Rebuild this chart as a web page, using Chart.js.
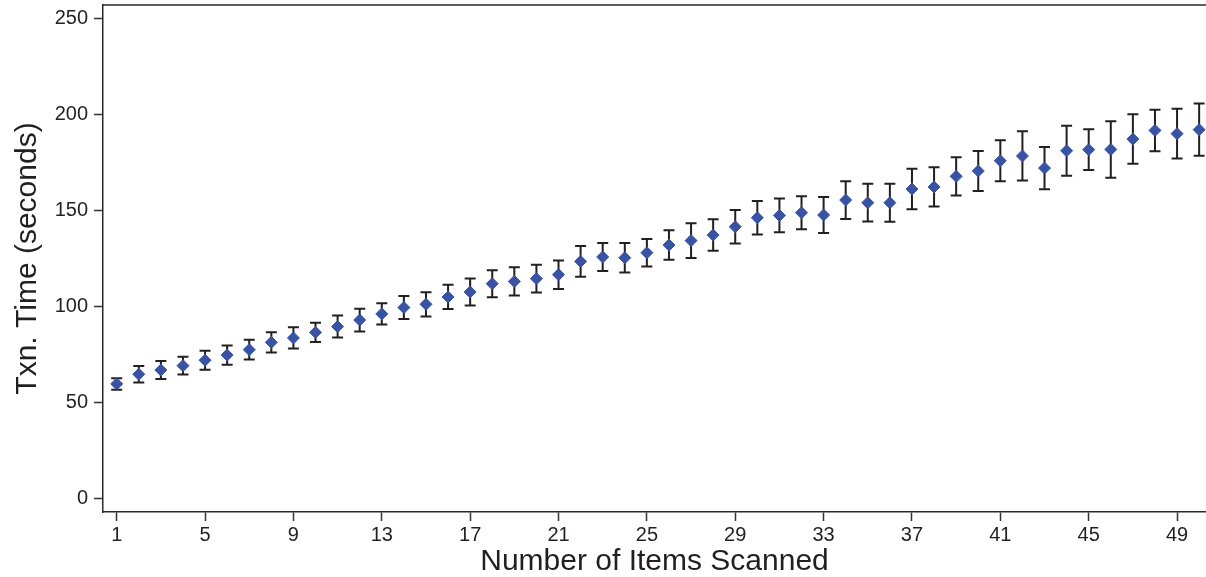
<!DOCTYPE html>
<html>
<head>
<meta charset="utf-8">
<script src="https://cdn.jsdelivr.net/npm/chart.js@4/dist/chart.umd.min.js"></script>
<style>
    html, body { margin: 0; padding: 0; background: #fff; }
</style>
</head>
<body>
<canvas id="chart" width="1206" height="577"></canvas>
<script>
// data
const items = [1, 2, 3, 4, 5, 6, 7, 8, 9, 10, 11, 12, 13, 14, 15, 16, 17, 18, 19, 20,
    21, 22, 23, 24, 25, 26, 27, 28, 29, 30, 31, 32, 33, 34, 35, 36, 37, 38, 39, 40,
    41, 42, 43, 44, 45, 46, 47, 48, 49, 50];
const meanTime = [59.8, 64.8, 67, 69.3, 72.1, 74.8, 77.6, 81.4, 83.7, 86.6,
    89.6, 93, 96.2, 99.5, 101.2, 105, 107.6, 111.9, 113.1, 114.5,
    116.6, 123.5, 125.8, 125.4, 128, 132, 134.3, 137.2, 141.5, 146.2,
    147.4, 148.8, 147.6, 155.4, 154, 154, 161.1, 162.2, 167.7, 170.5,
    175.8, 178.3, 172, 181, 181.6, 181.7, 187.1, 191.6, 189.9, 192];
const errTime = [3, 4.3, 4.7, 4.6, 5, 5, 5.1, 5.3, 5.5, 5,
    5.7, 5.9, 5.5, 6, 6.3, 6.3, 7, 7, 7.4, 7.2,
    7.4, 8, 7.3, 7.7, 7.2, 7.7, 9, 8.2, 8.7, 8.7,
    8.8, 8.6, 9.4, 9.8, 9.8, 9.9, 10.5, 10.2, 9.9, 10.4,
    10.7, 12.8, 11, 13, 10.6, 14.7, 12.9, 10.8, 12.9, 13.6];
const xTickVals = [1, 5, 9, 13, 17, 21, 25, 29, 33, 37, 41, 45, 49];
const yTickVals = [0, 50, 100, 150, 200, 250];

const inkColor = '#231f20';
const sans = "'Liberation Sans', Arial, sans-serif";

// error bars under the diamonds, plus the top frame line
const errorBars = {
    id: 'errorBars',
    beforeDatasetsDraw(chart) {
        const { ctx, scales: { x, y } } = chart;
        ctx.save();
        ctx.strokeStyle = inkColor;
        ctx.lineWidth = 2;
        items.forEach((v, i) => {
            const px = x.getPixelForValue(v);
            const top = y.getPixelForValue(meanTime[i] + errTime[i]);
            const bot = y.getPixelForValue(meanTime[i] - errTime[i]);
            ctx.beginPath();
            ctx.moveTo(px, top); ctx.lineTo(px, bot);
            ctx.moveTo(px - 5.5, top); ctx.lineTo(px + 5.5, top);
            ctx.moveTo(px - 5.5, bot); ctx.lineTo(px + 5.5, bot);
            ctx.stroke();
        });
        ctx.restore();
    },
    afterDraw(chart) {
        const { ctx, chartArea: a } = chart;
        ctx.save();
        ctx.strokeStyle = '#2a2a2a';
        ctx.lineWidth = 1.5;
        ctx.beginPath();
        ctx.moveTo(a.left, a.top); ctx.lineTo(a.right, a.top);
        ctx.stroke();
        ctx.restore();
    }
};

new Chart(document.getElementById('chart'), {
    type: 'scatter',
    data: {
        datasets: [{
            data: items.map((v, i) => ({ x: v, y: meanTime[i] })),
            pointStyle: 'rectRot',
            pointRadius: 6,
            pointBorderWidth: 1,
            backgroundColor: '#3953a4',
            borderColor: '#3953a4',
            clip: false
        }]
    },
    options: {
        responsive: false,
        animation: false,
        layout: { autoPadding: false, padding: { top: 5, right: 0, left: 0, bottom: 0 } },
        plugins: {
            legend: { display: false },
            tooltip: { enabled: false }
        },
        scales: {
            x: {
                type: 'linear',
                min: 0.38,
                max: 50.31,
                afterBuildTicks: s => { s.ticks = xTickVals.map(v => ({ value: v })); },
                afterFit: s => { s.height = 65; s.paddingLeft = 0; s.paddingRight = 0; },
                ticks: {
                    autoSkip: false,
                    maxRotation: 0,
                    padding: 2,
                    color: inkColor,
                    font: { family: sans, size: 20 }
                },
                grid: { drawOnChartArea: false, tickLength: 9, tickColor: '#333', tickWidth: 1.5 },
                border: { color: '#2a2a2a', width: 1.5 },
                title: {
                    display: true,
                    text: 'Number of Items Scanned',
                    color: inkColor,
                    padding: 0,
                    font: { family: sans, size: 30, lineHeight: 1 }
                }
            },
            y: {
                min: -6.8,
                max: 256.8,
                afterBuildTicks: s => { s.ticks = yTickVals.map(v => ({ value: v })); },
                afterFit: s => { s.width = 103; s.paddingTop = 0; s.paddingBottom = 0; },
                ticks: {
                    padding: 6,
                    color: inkColor,
                    font: { family: sans, size: 20 }
                },
                grid: { drawOnChartArea: false, tickLength: 9, tickColor: '#333', tickWidth: 1.5 },
                border: { color: '#2a2a2a', width: 1.5 },
                title: {
                    display: true,
                    text: 'Txn. Time (seconds)',
                    color: inkColor,
                    padding: { top: 13, bottom: 0 },
                    font: { family: sans, size: 30, lineHeight: 1 }
                }
            }
        }
    },
    plugins: [errorBars]
});
</script>
</body>
</html>
